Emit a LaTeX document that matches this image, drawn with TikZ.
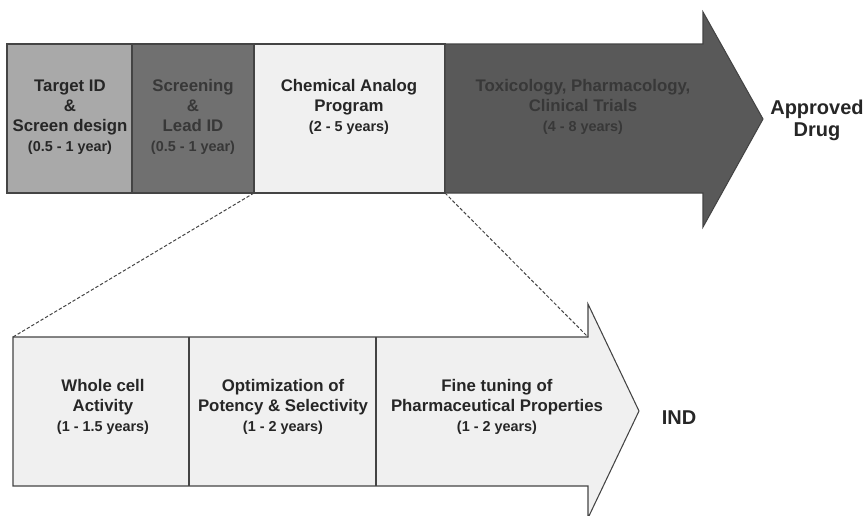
\documentclass[tikz,border=0pt]{standalone}
\usepackage{fontspec}
\setmainfont{Liberation Sans}
\definecolor{targetgray}{HTML}{A9A9A9}
\definecolor{screengray}{HTML}{707070}
\definecolor{palegray}{HTML}{F0F0F0}
\definecolor{clinicgray}{HTML}{595959}
\definecolor{edgegray}{HTML}{444444}
\newcommand{\yrs}{\fontsize{10.8}{15}\selectfont}

\begin{document}
\begin{tikzpicture}[x=0.75pt,y=-0.75pt,line width=0.8pt,draw=edgegray,
  stage/.style={align=center,font=\bfseries\fontsize{12.6}{15}\selectfont,text=black!85}]
\useasboundingbox (0,0) rectangle (865,515);

% upper arrow: four stages up to the approved drug
\coordinate (tl) at (7,44);
\coordinate (cl) at (254,193);
\coordinate (cr) at (445,193);
\filldraw[fill=targetgray] (tl) rectangle (132,193);
\filldraw[fill=screengray] (132,44) rectangle (cl);
\filldraw[fill=palegray] (254,44) rectangle (cr);
\filldraw[fill=clinicgray] (445,44) -- (703,44) -- (703,12) -- (763,119)
  -- (703,227) -- (703,193) -- (cr) -- cycle;

\node[stage] (target) at (70,117) {Target ID\\ \&\\ Screen design\\ {\yrs (0.5 - 1 year)}};
\node[stage,text=black!78] (screen) at (193,117) {Screening\\ \&\\ Lead ID\\ {\yrs (0.5 - 1 year)}};
\node[stage] (analog) at (349,107) {Chemical Analog\\ Program\\ {\yrs (2 - 5 years)}};
\node[stage,text=black!78] (clinic) at (583,107) {Toxicology, Pharmacology,\\ Clinical Trials\\ {\yrs (4 - 8 years)}};
\node[stage,font=\bfseries\fontsize{15}{16.5}\selectfont] (drug) at (817,120) {Approved\\ Drug};

% lower arrow: the analog program in detail
\coordinate (bl) at (13,337);
\coordinate (br) at (588,337);
\filldraw[fill=palegray] (bl) -- (br) -- (588,304) -- (639,411) -- (588,518)
  -- (588,486) -- (13,486) -- cycle;
\foreach \x in {189,376}
  \draw (\x,337) -- (\x,486);

\node[stage] (cell) at (103,407) {Whole cell\\ Activity\\ {\yrs (1 - 1.5 years)}};
\node[stage] (potency) at (283,407) {Optimization of\\ Potency \& Selectivity\\ {\yrs (1 - 2 years)}};
\node[stage] (tuning) at (497,407) {Fine tuning of\\ Pharmaceutical Properties\\ {\yrs (1 - 2 years)}};
\node[stage,font=\bfseries\fontsize{15}{16.5}\selectfont] (ind) at (679,418) {IND};

% zoom lines
\draw[line width=0.75pt,dash pattern=on 2.5pt off 1.5pt] (cl) -- (bl);
\draw[line width=0.75pt,dash pattern=on 2.5pt off 1.5pt] (cr) -- (br);
\end{tikzpicture}
\end{document}
